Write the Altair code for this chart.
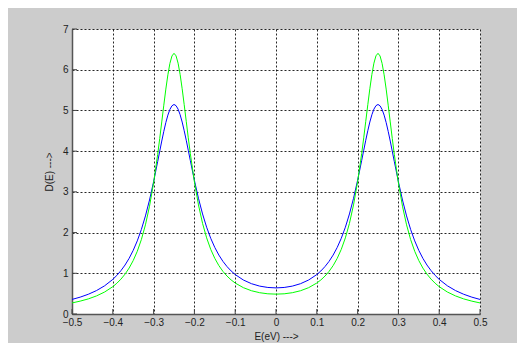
import altair as alt
import pandas as pd

# Energy grid (eV)
E = [-0.50, -0.48, -0.46, -0.44, -0.42, -0.40, -0.39, -0.38, -0.37, -0.36,
     -0.35, -0.34, -0.33, -0.32, -0.31, -0.30, -0.29, -0.285, -0.28, -0.275,
     -0.27, -0.265, -0.26, -0.255, -0.25, -0.245, -0.24, -0.235, -0.23, -0.225,
     -0.22, -0.215, -0.21, -0.20, -0.19, -0.18, -0.17, -0.16, -0.15, -0.14,
     -0.13, -0.12, -0.11, -0.10, -0.08, -0.06, -0.04, -0.02, 0.00,
     0.02, 0.04, 0.06, 0.08, 0.10, 0.11, 0.12, 0.13, 0.14, 0.15,
     0.16, 0.17, 0.18, 0.19, 0.20, 0.21, 0.215, 0.22, 0.225, 0.23,
     0.235, 0.24, 0.245, 0.25, 0.255, 0.26, 0.265, 0.27, 0.275, 0.28,
     0.285, 0.29, 0.30, 0.31, 0.32, 0.33, 0.34, 0.35, 0.36, 0.37,
     0.38, 0.39, 0.40, 0.42, 0.44, 0.46, 0.48, 0.50]

# Blue curve D(E)
D_blue = [0.358, 0.414, 0.485, 0.575, 0.693, 0.850, 0.949, 1.066, 1.203, 1.367,
          1.562, 1.796, 2.076, 2.409, 2.800, 3.250, 3.743, 3.998, 4.248, 4.486,
          4.702, 4.885, 5.025, 5.114, 5.146, 5.117, 5.032, 4.895, 4.715, 4.502,
          4.268, 4.021, 3.770, 3.283, 2.841, 2.457, 2.131, 1.859, 1.634, 1.447,
          1.292, 1.164, 1.057, 0.969, 0.835, 0.744, 0.685, 0.652, 0.641,
          0.652, 0.685, 0.744, 0.835, 0.969, 1.057, 1.164, 1.292, 1.447, 1.634,
          1.859, 2.131, 2.457, 2.841, 3.283, 3.770, 4.021, 4.268, 4.502, 4.715,
          4.895, 5.032, 5.117, 5.146, 5.114, 5.025, 4.885, 4.702, 4.486, 4.248,
          3.998, 3.743, 3.250, 2.800, 2.409, 2.076, 1.796, 1.562, 1.367, 1.203,
          1.066, 0.949, 0.850, 0.693, 0.575, 0.485, 0.414, 0.358]

# Green curve D(E)
D_green = [0.272, 0.316, 0.371, 0.444, 0.540, 0.671, 0.756, 0.857, 0.979, 1.128,
           1.312, 1.540, 1.828, 2.190, 2.648, 3.222, 3.920, 4.311, 4.717, 5.129,
           5.524, 5.876, 6.156, 6.338, 6.403, 6.341, 6.161, 5.884, 5.533, 5.141,
           4.733, 4.328, 3.940, 3.248, 2.679, 2.226, 1.870, 1.588, 1.366, 1.188,
           1.046, 0.931, 0.837, 0.761, 0.647, 0.571, 0.523, 0.496, 0.488,
           0.496, 0.523, 0.571, 0.647, 0.761, 0.837, 0.931, 1.046, 1.188, 1.366,
           1.588, 1.870, 2.226, 2.679, 3.248, 3.940, 4.328, 4.733, 5.141, 5.533,
           5.884, 6.161, 6.341, 6.403, 6.338, 6.156, 5.876, 5.524, 5.129, 4.717,
           4.311, 3.920, 3.222, 2.648, 2.190, 1.828, 1.540, 1.312, 1.128, 0.979,
           0.857, 0.756, 0.671, 0.540, 0.444, 0.371, 0.316, 0.272]

x_ticks = [-0.5, -0.4, -0.3, -0.2, -0.1, 0.0, 0.1, 0.2, 0.3, 0.4, 0.5]
y_ticks = [0, 1, 2, 3, 4, 5, 6, 7]

series_names = ["blue", "green"]
series_colors = ["#0000ff", "#00ff00"]

rows = []
for e, d in zip(E, D_blue):
    rows.append({"E": e, "D": d, "s": "blue"})
for e, d in zip(E, D_green):
    rows.append({"E": e, "D": d, "s": "green"})
df = pd.DataFrame(rows)

W, H = 408, 285

xscale = alt.Scale(domain=[-0.5, 0.5], nice=False, zero=False)
yscale = alt.Scale(domain=[0, 7], nice=False)

xaxis = alt.Axis(values=x_ticks, format="~g", title="E(eV) --->", grid=True,
                 tickSize=0, labelPadding=3, titlePadding=4,
                 labelFlush=False)
yaxis = alt.Axis(values=y_ticks, title="D(E) --->", grid=True, tickSize=0,
                 labelPadding=4, titlePadding=8)

lines = alt.Chart(df).mark_line(strokeWidth=1, clip=True).encode(
    x=alt.X("E:Q", scale=xscale, axis=xaxis),
    y=alt.Y("D:Q", scale=yscale, axis=yaxis),
    color=alt.Color("s:N", scale=alt.Scale(domain=series_names, range=series_colors), legend=None),
    order=alt.Order("E:Q"),
)

xt = pd.DataFrame({"x": x_ticks})
yt = pd.DataFrame({"y": y_ticks})

xtick_marks = alt.Chart(xt).mark_rule(color="#444", strokeWidth=1).encode(
    x=alt.X("x:Q", scale=xscale),
    y=alt.value(H), y2=alt.value(H - 5),
)
ytick_marks = alt.Chart(yt).mark_rule(color="#444", strokeWidth=1).encode(
    y=alt.Y("y:Q", scale=yscale),
    x=alt.value(0), x2=alt.value(5),
)

chart = alt.layer(xtick_marks, ytick_marks, lines).properties(
    width=W, height=H,
    background="#cccccc",
    autosize=alt.AutoSizeParams(type="none"),
    padding={"left": 64, "top": 21, "right": 37, "bottom": 29},
).configure_view(
    fill="white", stroke="transparent"
).configure_axis(
    gridColor="#000000", gridDash=[2, 2], gridWidth=1, gridOpacity=0.85,
    domainColor="#555555", domainWidth=1.5,
    labelFont="Liberation Sans", labelFontSize=10, labelColor="#222222",
    titleFont="Liberation Sans", titleFontSize=10, titleColor="#222222",
    titleFontWeight="normal",
)

chart.save("out.html", embed_options={"renderer": "svg", "actions": False})
